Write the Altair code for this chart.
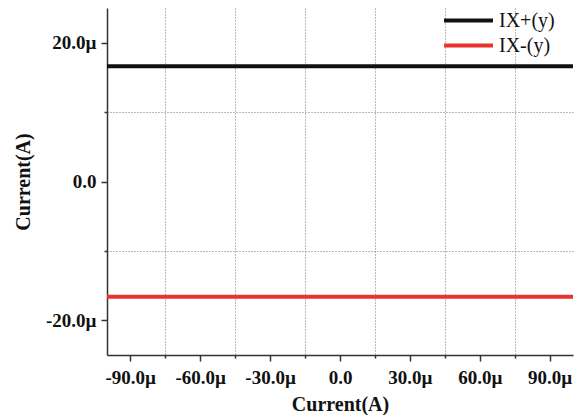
import altair as alt
import pandas as pd

# data (amps)
x_span = [-100e-6, 100e-6]
ix_plus = [16.6e-6, 16.6e-6]
ix_minus = [-16.6e-6, -16.6e-6]
series_names = ["IX+(y)", "IX-(y)"]
series_colors = ["#111111", "#e8332f"]

x_tick_values = [-90e-6, -75e-6, -60e-6, -45e-6, -30e-6, -15e-6, 0.0,
                 15e-6, 30e-6, 45e-6, 60e-6, 75e-6, 90e-6]
y_tick_values = [-20e-6, -10e-6, 0.0, 10e-6, 20e-6]

rows = []
for xv, yv in zip(x_span, ix_plus):
    rows.append({"x": xv, "y": yv, "series": series_names[0]})
for xv, yv in zip(x_span, ix_minus):
    rows.append({"x": xv, "y": yv, "series": series_names[1]})
df = pd.DataFrame(rows)

FONT = "Liberation Serif"
fmt = ("(round(datum.value*1e6) == 0 ? '0.0' : "
       "(datum.value < 0 ? '-' : '') + format(abs(datum.value*1e6), '.1f') + 'µ')")
label_expr_x = "abs(round(datum.value*1e6)) % 30 == 15 ? '' : " + fmt
label_expr_y = "abs(round(datum.value*1e6)) % 20 == 10 ? '' : " + fmt

x_minor = "abs(round(datum.value*1e6)) % 30 == 15"
y_minor = "abs(round(datum.value*1e6)) % 20 == 10"

common_axis = dict(
    grid=True, gridDash=[1, 2], gridColor="#777777", gridWidth=1,
    tickColor="#333333", tickWidth=1.5,
    domainColor="#333333", domainWidth=1.5,
    labelFont=FONT, labelFontSize=19, labelFontWeight="bold", labelColor="#111111",
    labelOverlap=False,
    titleFont=FONT, titleFontSize=20, titleFontWeight="bold", titleColor="#111111",
)

chart = alt.Chart(df).mark_line(strokeWidth=4).encode(
    x=alt.X("x:Q", scale=alt.Scale(domain=[-100e-6, 100e-6], nice=False, zero=False),
            axis=alt.Axis(
                title="Current(A)", values=x_tick_values, labelExpr=label_expr_x,
                gridOpacity={"condition": {"test": x_minor, "value": 1}, "value": 0},
                tickSize={"condition": {"test": x_minor, "value": 3}, "value": 6},
                labelPadding=7, labelFlush=False, titlePadding=7, **common_axis)),
    y=alt.Y("y:Q", scale=alt.Scale(domain=[-25e-6, 25e-6], nice=False, zero=False),
            axis=alt.Axis(
                title="Current(A)", values=y_tick_values, labelExpr=label_expr_y,
                gridOpacity={"condition": {"test": y_minor, "value": 1}, "value": 0},
                tickSize={"condition": {"test": y_minor, "value": 3}, "value": 6},
                labelPadding=5, titlePadding=12, **common_axis)),
    color=alt.Color("series:N",
                    scale=alt.Scale(domain=series_names, range=series_colors),
                    legend=alt.Legend(
                        title=None, orient="none", legendX=335, legendY=0,
                        symbolType="stroke", symbolSize=2401, symbolStrokeWidth=4,
                        clipHeight=25,
                        labelFont=FONT, labelFontSize=20, labelColor="#111111",
                        padding=0, rowPadding=0, labelOffset=4)),
    detail="series:N",
).properties(
    width=466, height=347,
    autosize=alt.AutoSizeParams(type="none"),
    padding={"left": 99, "top": 0, "right": 3, "bottom": 62},
).configure_view(stroke=None)

chart.save("out.html", embed_options={"renderer": "svg", "actions": False})
